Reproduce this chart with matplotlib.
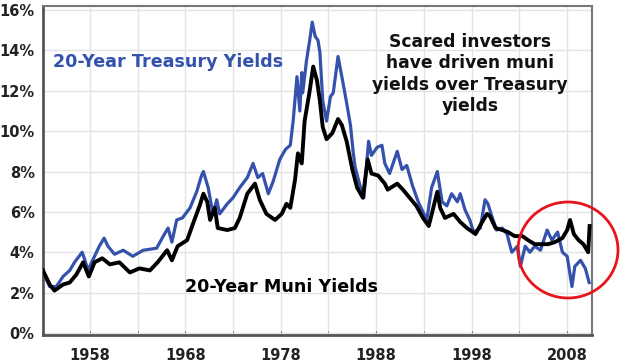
import matplotlib
matplotlib.use("Agg")
import matplotlib.pyplot as plt
from matplotlib.patches import Ellipse

# ---- data ----
treasury_years = [1953.1, 1953.8, 1954.5, 1955.2, 1955.9, 1956.4, 1957.2, 1957.5, 1957.8, 1958.3,
                  1959.0, 1959.5, 1959.9, 1960.6, 1961.5, 1962.5, 1963.6, 1965.0, 1965.7, 1966.2,
                  1966.6, 1967.1, 1967.7, 1968.5, 1969.2, 1969.7, 1969.9, 1970.4, 1970.9, 1971.3,
                  1971.6, 1972.4, 1973.0, 1973.7, 1974.5, 1975.1, 1975.6, 1976.1, 1976.7, 1977.2,
                  1977.9, 1978.5, 1979.0, 1979.3, 1979.7, 1980.0, 1980.2, 1980.3, 1980.7, 1981.0,
                  1981.3, 1981.6, 1981.9, 1982.1, 1982.4, 1982.8, 1983.2, 1983.5, 1984.0, 1984.4,
                  1984.9, 1985.3, 1985.6, 1985.8, 1986.3, 1986.7, 1987.2, 1987.5, 1988.1, 1988.6,
                  1988.9, 1989.4, 1990.2, 1990.7, 1991.2, 1991.8, 1992.4, 1992.8, 1993.3, 1993.8,
                  1994.4, 1994.9, 1995.4, 1995.9, 1996.5, 1996.8, 1997.3, 1997.8, 1998.2, 1998.9,
                  1999.4, 1999.7, 2000.1, 2000.6, 2001.2, 2001.7, 2002.2, 2002.8, 2003.1, 2003.6,
                  2004.1, 2004.6, 2005.2, 2005.9, 2006.4, 2007.0, 2007.5, 2008.0, 2008.5, 2008.8,
                  2009.4, 2009.9, 2010.3]
treasury_yield = [3.0, 2.3, 2.3, 2.8, 3.1, 3.5, 4.0, 3.6, 3.1, 3.6,
                  4.3, 4.7, 4.3, 3.9, 4.1, 3.8, 4.1, 4.2, 4.8, 5.2,
                  4.5, 5.6, 5.7, 6.2, 7.0, 7.8, 8.0, 7.2, 5.9, 6.6,
                  5.9, 6.4, 6.7, 7.2, 7.7, 8.4, 7.7, 7.9, 6.9, 7.5,
                  8.6, 9.1, 9.3, 10.5, 12.7, 11.0, 12.9, 11.9, 13.5, 14.4,
                  15.4, 14.7, 14.5, 13.9, 11.5, 10.5, 11.7, 11.9, 13.7, 12.7,
                  11.4, 10.3, 8.9, 8.2, 7.3, 6.7, 9.5, 8.8, 9.2, 9.3,
                  8.4, 7.9, 9.0, 8.1, 8.3, 7.3, 6.5, 6.1, 5.6, 7.2,
                  8.0, 6.5, 6.3, 6.9, 6.5, 6.9, 6.1, 5.6, 5.0, 5.2,
                  6.6, 6.4, 5.8, 5.1, 5.2, 4.9, 4.0, 4.3, 3.3, 4.3,
                  4.0, 4.3, 4.1, 5.1, 4.6, 5.0, 4.0, 3.8, 2.3, 3.3,
                  3.6, 3.2, 2.5]

muni_years = [1953.1, 1953.8, 1954.3, 1955.2, 1955.9, 1956.6, 1957.3, 1957.9, 1958.5, 1959.3,
              1960.1, 1961.1, 1962.2, 1963.2, 1964.3, 1965.1, 1966.1, 1966.6, 1967.2, 1968.2,
              1968.8, 1969.5, 1969.9, 1970.3, 1970.6, 1971.1, 1971.4, 1972.4, 1973.2, 1973.7,
              1974.5, 1975.3, 1975.8, 1976.5, 1977.4, 1978.1, 1978.6, 1979.0, 1979.5, 1979.8,
              1980.2, 1980.5, 1981.0, 1981.4, 1981.8, 1982.1, 1982.4, 1982.8, 1983.4, 1984.0,
              1984.4, 1984.9, 1985.5, 1986.0, 1986.6, 1987.1, 1987.5, 1988.2, 1988.9, 1989.2,
              1990.2, 1990.8, 1991.5, 1992.2, 1992.9, 1993.5, 1994.4, 1994.7, 1995.2, 1996.1,
              1996.8, 1997.5, 1998.4, 1999.1, 1999.6, 1999.9, 2000.5, 2001.2, 2001.8, 2002.5,
              2003.3, 2003.9, 2004.6, 2005.4, 2006.0, 2006.7, 2007.5, 2008.0, 2008.3, 2008.7,
              2009.2, 2009.7, 2010.2, 2010.35]
muni_yield = [3.1, 2.4, 2.1, 2.4, 2.5, 2.9, 3.5, 2.8, 3.5, 3.7,
              3.4, 3.5, 3.0, 3.2, 3.1, 3.5, 4.1, 3.6, 4.3, 4.6,
              5.4, 6.3, 6.9, 6.5, 5.6, 6.2, 5.2, 5.1, 5.2, 5.7,
              6.9, 7.4, 6.6, 5.9, 5.6, 5.9, 6.4, 6.2, 7.6, 8.9,
              8.4, 10.5, 11.9, 13.2, 12.5, 11.5, 10.2, 9.6, 9.9, 10.6,
              10.3, 9.5, 8.1, 7.2, 6.7, 8.6, 7.9, 7.8, 7.4, 7.1,
              7.4, 7.1, 6.7, 6.3, 5.7, 5.3, 7.0, 6.2, 5.7, 5.9,
              5.5, 5.2, 4.9, 5.5, 5.9, 5.8, 5.2, 5.1, 5.0, 4.8,
              4.8, 4.6, 4.4, 4.4, 4.4, 4.5, 4.7, 5.1, 5.6, 4.9,
              4.6, 4.4, 4.0, 5.3]

yticks = [0, 2, 4, 6, 8, 10, 12, 14, 16]
ytick_labels = ["0%", "2%", "4%", "6%", "8%", "10%", "12%", "14%", "16%"]
xticks = [1958, 1968, 1978, 1988, 1998, 2008]
xgrid = [1958, 1963, 1968, 1973, 1978, 1983, 1988, 1993, 1998, 2003, 2008]

treasury_label = "20-Year Treasury Yields"
muni_label = "20-Year Muni Yields"
note = "Scared investors\nhave driven muni\nyields over Treasury\nyields"

# ---- figure ----
W, H = 620, 363
fig = plt.figure(figsize=(W / 100, H / 100), dpi=100)
ax = fig.add_axes([43 / W, 1 - 335 / H, (592 - 43) / W, (335 - 6) / H])

blue = "#3452AC"
ax.plot(treasury_years, treasury_yield, color=blue, lw=2.3, solid_joinstyle="round", zorder=3)
ax.plot(muni_years, muni_yield, color="black", lw=2.8, solid_joinstyle="round", zorder=4)

ax.set_xlim(1953.1, 2010.6)
ax.set_ylim(-0.1, 16.2)

ax.set_yticks(yticks)
ax.set_yticklabels(ytick_labels)
ax.set_xticks(xticks)
ax.set_xticks(xgrid, minor=True)
for lbl in ax.get_xticklabels() + ax.get_yticklabels():
    lbl.set_fontweight("bold")
    lbl.set_fontsize(10.5)
    lbl.set_color("#222222")

ax.grid(True, which="both", axis="x", color="#e3e3e3", lw=1.0)
ax.grid(True, which="major", axis="y", color="#e3e3e3", lw=1.0)
ax.set_axisbelow(True)
ax.tick_params(axis="x", which="both", direction="in", length=3, color="#555555", pad=9)
ax.tick_params(axis="y", length=0, pad=6)

for side in ["left", "bottom"]:
    ax.spines[side].set_color("#555555")
    ax.spines[side].set_linewidth(2.0)
for side in ["top", "right"]:
    ax.spines[side].set_color("#777777")
    ax.spines[side].set_linewidth(1.5)

ax.text(53 / W, 1 - 62 / H, treasury_label, transform=fig.transFigure, color=blue,
        fontsize=12.6, fontweight="bold", ha="left", va="center")
ax.text(185 / W, 1 - 287 / H, muni_label, transform=fig.transFigure, color="black",
        fontsize=12.6, fontweight="bold", ha="left", va="center")
ax.text(470 / W, 1 - 74 / H, note, transform=fig.transFigure, color="#111111",
        fontsize=12.3, fontweight="bold", ha="center", va="center", linespacing=1.22)

circle = Ellipse((568 / W, 1 - 250 / H), 100 / W, 96 / H, transform=fig.transFigure,
                 fill=False, edgecolor="#e8141c", lw=2.0, clip_on=False, zorder=5)
fig.patches.append(circle)

fig.savefig("out.png", dpi=100)
